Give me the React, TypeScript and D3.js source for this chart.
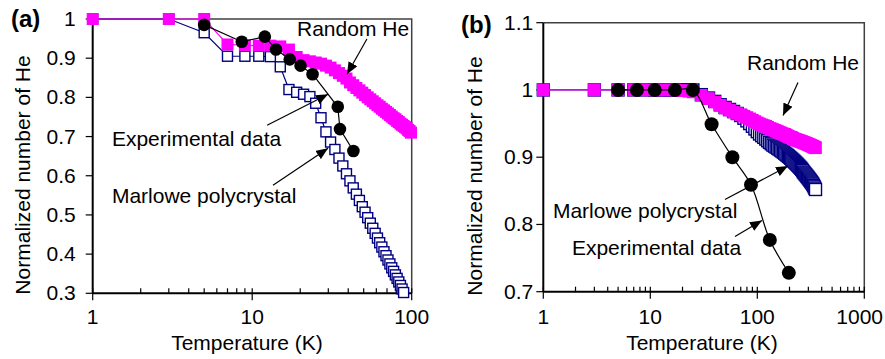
import React, { useEffect, useRef } from "react";
import * as d3 from "d3";

// ---- panel (a) data ----
const tempRandomA = [
  1, 3, 5, 7, 9, 11, 13, 15, 17, 19, 21, 23, 25, 27, 29, 31, 33, 35, 37, 39,
  41, 43, 45, 47, 49, 51, 53, 55, 57, 59, 61, 63, 65, 67, 69, 71, 73, 75, 77, 79,
  81, 83, 85, 87, 89, 91, 93, 95, 97, 99,
];
const randomHeA = [
  1.0, 1.0, 1.0, 0.935, 0.933, 0.932, 0.932, 0.93, 0.922, 0.903, 0.895, 0.892, 0.889,
  0.886, 0.881, 0.876, 0.869, 0.862, 0.855, 0.848, 0.838, 0.831, 0.824, 0.818, 0.812,
  0.806, 0.8, 0.795, 0.79, 0.785, 0.78, 0.776, 0.771, 0.767, 0.763, 0.759, 0.755,
  0.751, 0.747, 0.744, 0.74, 0.737, 0.733, 0.73, 0.727, 0.724, 0.721, 0.717, 0.714, 0.71,
];
const tempMarloweA = [
  1, 3, 5, 7, 9, 11, 13, 15, 17, 19, 21, 23, 25, 27, 29, 31, 33, 35, 37, 39,
  41, 43, 45, 47, 49, 51, 53, 55, 57, 59, 61, 63, 65, 67, 69, 71, 73, 75, 77, 79,
  81, 83, 85, 87, 89,
];
const marloweA = [
  1.0, 1.0, 0.965, 0.905, 0.905, 0.905, 0.904, 0.878, 0.82, 0.813, 0.808, 0.802, 0.785,
  0.748, 0.712, 0.686, 0.667, 0.645, 0.625, 0.605, 0.587, 0.569, 0.553, 0.537, 0.521,
  0.507, 0.493, 0.479, 0.466, 0.453, 0.441, 0.429, 0.418, 0.406, 0.396, 0.385, 0.375,
  0.365, 0.356, 0.347, 0.338, 0.329, 0.32, 0.311, 0.302,
];
const tempExpA = [5, 8.6, 12, 14.1, 17.2, 20.1, 23.9, 34.4, 35.5, 43.1];
const expA = [0.985, 0.942, 0.955, 0.922, 0.897, 0.881, 0.859, 0.776, 0.719, 0.663];

// ---- panel (b) data ----
const tempSimB = [
  1, 3, 5, 7, 9, 11, 13, 15, 17, 19, 21, 23, 25,
  30, 35, 40, 45, 50, 55, 60, 65, 70, 75, 80, 85, 90, 95,
  100, 105, 110, 115, 120, 125, 130, 135, 140, 145, 150, 155, 160, 165, 170, 175,
  180, 185, 190, 195, 200, 205, 210, 215, 220, 225, 230, 235, 240, 245, 250, 255,
  260, 265, 270, 275, 280, 285, 290, 295, 300, 305, 310, 315, 320, 325, 330, 335,
  340, 345, 350,
];
const randomHeB = [
  1, 1, 1, 1, 1, 1, 1, 1, 1, 0.999, 0.999, 0.998, 0.997,
  0.992, 0.987, 0.982, 0.977, 0.973, 0.97, 0.967, 0.965, 0.963, 0.961, 0.959, 0.957, 0.955, 0.953,
  0.951, 0.9495, 0.948, 0.947, 0.946, 0.9445, 0.943, 0.942, 0.941, 0.94, 0.939, 0.938,
  0.937, 0.936, 0.935, 0.9345, 0.934, 0.933, 0.932, 0.931, 0.93, 0.9295, 0.929, 0.928,
  0.927, 0.9265, 0.926, 0.9255, 0.925, 0.9245, 0.924, 0.9235, 0.923, 0.9225, 0.922,
  0.9215, 0.921, 0.9205, 0.92, 0.9195, 0.919, 0.9185, 0.918, 0.9175, 0.917, 0.9165,
  0.916, 0.9155, 0.915, 0.9145, 0.914,
];
const marloweB = [
  1, 1, 1, 1, 1, 1, 1, 1, 1, 1, 1, 1, 1,
  0.993, 0.988, 0.983, 0.978, 0.974, 0.971, 0.968, 0.965, 0.962, 0.958, 0.954, 0.95, 0.946, 0.942,
  0.938, 0.9345, 0.932, 0.9295, 0.927, 0.9245, 0.922, 0.92, 0.918, 0.9165, 0.915, 0.9135,
  0.912, 0.9105, 0.909, 0.9075, 0.906, 0.9045, 0.903, 0.9015, 0.9, 0.8985, 0.897, 0.8955,
  0.894, 0.8925, 0.891, 0.8895, 0.888, 0.8865, 0.885, 0.8835, 0.882, 0.88, 0.878, 0.8765,
  0.875, 0.8735, 0.872, 0.8705, 0.869, 0.8675, 0.866, 0.8645, 0.863, 0.8615, 0.86, 0.858,
  0.856, 0.854, 0.852,
];
const tempExpB = [5, 7.5, 11, 17, 25, 37.4, 58.5, 87.3, 131, 197];
const expB = [1, 1, 1, 1, 1, 0.949, 0.9, 0.859, 0.777, 0.728];

// tick values
const yTicksA = [0.3, 0.4, 0.5, 0.6, 0.7, 0.8, 0.9, 1];
const yTicksB = [0.7, 0.8, 0.9, 1, 1.1];
const xMajorA = [1, 10, 100];
const xMajorB = [1, 10, 100, 1000];

const FONT = "'Liberation Sans', Arial, Helvetica, sans-serif";
const MAGENTA = "#ff00ff";
const NAVY = "#000080";
const PAGE_W = 885;

type Series = { t: number[]; v: number[]; kind: "square" | "open" | "circle"; size: number; smooth?: boolean };
type Note = { text: string; at: [number, number]; from: [number, number]; to: [number, number] };

type PanelCfg = {
  id: string;
  label: string;
  labelPos: [number, number];
  xDomain: [number, number];
  yDomain: [number, number];
  xRange: [number, number];
  yRange: [number, number];
  yTicks: number[];
  xMajor: number[];
  yLabelGap: number;
  xTitleX: number;
  yTitleX: number;
  yTitleY: number;
  series: Series[];
  notes: Note[];
};

const panels: PanelCfg[] = [
  {
    id: "a",
    label: "(a)",
    labelPos: [11, 27],
    xDomain: [1, 100],
    yDomain: [0.3, 1],
    xRange: [92.7, 411.7],
    yRange: [293.3, 19],
    yTicks: yTicksA,
    xMajor: xMajorA,
    yLabelGap: 17,
    xTitleX: 247,
    yTitleX: 30,
    yTitleY: 175,
    series: [
      { t: tempMarloweA, v: marloweA, kind: "open", size: 10 },
      { t: tempRandomA, v: randomHeA, kind: "square", size: 12 },
      { t: tempExpA, v: expA, kind: "circle", size: 12.6 },
    ],
    notes: [
      { text: "Random He", at: [19.1, 0.957], from: [52.4, 0.949], to: [39.3, 0.859] },
      { text: "Experimental data", at: [1.32, 0.676], from: [12.4, 0.729], to: [29.9, 0.808] },
      { text: "Marlowe polycrystal", at: [1.32, 0.53], from: [13.5, 0.576], to: [29.9, 0.67] },
    ],
  },
  {
    id: "b",
    label: "(b)",
    labelPos: [461, 33],
    xDomain: [1, 1000],
    yDomain: [0.7, 1.1],
    xRange: [543.3, 864.3],
    yRange: [291.7, 22.7],
    yTicks: yTicksB,
    xMajor: xMajorB,
    yLabelGap: 10,
    xTitleX: 702,
    yTitleX: 482,
    yTitleY: 176,
    series: [
      { t: tempSimB, v: marloweB, kind: "open", size: 12 },
      { t: tempSimB, v: randomHeB, kind: "square", size: 12.6 },
      { t: tempExpB, v: expB, kind: "circle", size: 14, smooth: true },
    ],
    notes: [
      { text: "Random He", at: [80.1, 1.029], from: [240, 1.011], to: [174, 0.962] },
      { text: "Marlowe polycrystal", at: [1.23, 0.809], from: [49.9, 0.837], to: [193.6, 0.887] },
      { text: "Experimental data", at: [1.85, 0.755], from: [61.9, 0.782], to: [110.6, 0.806] },
    ],
  },
];

const drawPanel = (svg: d3.Selection<SVGSVGElement, unknown, null, undefined>, p: PanelCfg) => {
  const x = d3.scaleLog().domain(p.xDomain).range(p.xRange);
  const y = d3.scaleLinear().domain(p.yDomain).range(p.yRange);
  const [xl, xr] = p.xRange;
  const [yb, yt] = p.yRange;
  const g = svg.append("g");

  // plot-area border (top + right)
  g.append("path")
    .attr("d", `M${xl},${yt}H${xr}V${yb}`)
    .attr("fill", "none")
    .attr("stroke", "#404040")
    .attr("stroke-width", 1.5);

  // x axis: major ticks cross the axis, minor ones sit inside
  g.append("line").attr("x1", xl).attr("x2", xr).attr("y1", yb).attr("y2", yb)
    .attr("stroke", "#000").attr("stroke-width", 2);
  x.ticks().forEach((t) => {
    const major = p.xMajor.includes(t);
    g.append("line")
      .attr("x1", x(t)).attr("x2", x(t))
      .attr("y1", yb - 5).attr("y2", major ? yb + 7 : yb)
      .attr("stroke", "#000").attr("stroke-width", 1.2);
  });
  p.xMajor.forEach((t) => {
    const label = g.append("text")
      .attr("x", x(t)).attr("y", 324)
      .attr("text-anchor", "middle")
      .style("font-family", FONT).style("font-size", "21px")
      .text(String(t));
    // keep the last label on the page
    const node = label.node() as SVGTextElement;
    const w = node.getComputedTextLength();
    if (x(t) + w / 2 > PAGE_W - 2) label.attr("x", PAGE_W - 2 - w / 2);
  });

  // y axis
  g.append("line").attr("x1", xl).attr("x2", xl).attr("y1", yt).attr("y2", yb)
    .attr("stroke", "#000").attr("stroke-width", 2);
  p.yTicks.forEach((t) => {
    g.append("line")
      .attr("x1", xl - 7).attr("x2", xl)
      .attr("y1", y(t)).attr("y2", y(t))
      .attr("stroke", "#000").attr("stroke-width", 1.2);
    g.append("text")
      .attr("x", xl - p.yLabelGap).attr("y", y(t) + 7)
      .attr("text-anchor", "end")
      .style("font-family", FONT).style("font-size", "21px")
      .text(d3.format("~g")(t));
  });

  // axis titles
  g.append("text")
    .attr("x", p.xTitleX).attr("y", 350)
    .attr("text-anchor", "middle")
    .style("font-family", FONT).style("font-size", "21px")
    .text("Temperature (K)");
  g.append("text")
    .attr("transform", `translate(${p.yTitleX},${p.yTitleY}) rotate(-90)`)
    .attr("text-anchor", "middle")
    .style("font-family", FONT).style("font-size", "21px")
    .text("Normalized number of He");

  // panel label
  g.append("text")
    .attr("x", p.labelPos[0]).attr("y", p.labelPos[1])
    .style("font-family", FONT).style("font-size", "24px").style("font-weight", "bold")
    .text(p.label);

  // series
  p.series.forEach((s) => {
    const pts: [number, number][] = s.t.map((t, i) => [t, s.v[i]]);
    const color = s.kind === "square" ? MAGENTA : s.kind === "open" ? NAVY : "#000";
    const line = d3.line<[number, number]>()
      .x((d) => x(d[0]))
      .y((d) => y(d[1]))
      .curve(s.smooth ? d3.curveCatmullRom.alpha(0.5) : d3.curveLinear);
    g.append("path")
      .attr("d", line(pts))
      .attr("fill", "none")
      .attr("stroke", color)
      .attr("stroke-width", 1.2);

    const mk = g.append("g");
    pts.forEach((d) => {
      if (s.kind === "circle") {
        mk.append("circle")
          .attr("cx", x(d[0])).attr("cy", y(d[1])).attr("r", s.size / 2)
          .attr("fill", "#000");
      } else {
        mk.append("rect")
          .attr("x", x(d[0]) - s.size / 2).attr("y", y(d[1]) - s.size / 2)
          .attr("width", s.size).attr("height", s.size)
          .attr("fill", s.kind === "square" ? MAGENTA : "#fff")
          .attr("stroke", s.kind === "square" ? "none" : NAVY)
          .attr("stroke-width", 1.4);
      }
    });
  });

  // annotations with arrows
  p.notes.forEach((n) => {
    g.append("line")
      .attr("x1", x(n.from[0])).attr("y1", y(n.from[1]))
      .attr("x2", x(n.to[0])).attr("y2", y(n.to[1]))
      .attr("stroke", "#000").attr("stroke-width", 1.2)
      .attr("marker-end", `url(#arrow-${p.id})`);
    g.append("text")
      .attr("x", x(n.at[0])).attr("y", y(n.at[1]))
      .style("font-family", FONT).style("font-size", "21px")
      .text(n.text);
  });
};

const App: React.FC = () => {
  const ref = useRef<SVGSVGElement>(null);

  useEffect(() => {
    if (!ref.current) return;
    const svg = d3.select(ref.current);
    svg.selectAll("*").remove();

    const defs = svg.append("defs");
    panels.forEach((p) => {
      defs.append("marker")
        .attr("id", `arrow-${p.id}`)
        .attr("markerUnits", "userSpaceOnUse")
        .attr("markerWidth", 12).attr("markerHeight", 10)
        .attr("refX", 12).attr("refY", 5)
        .attr("orient", "auto")
        .append("path")
        .attr("d", "M0,0L12,5L0,10Z")
        .attr("fill", "#000");
    });

    svg.append("rect").attr("width", PAGE_W).attr("height", 359).attr("fill", "#fff");
    panels.forEach((p) => drawPanel(svg, p));
  }, []);

  return (
    <svg
      ref={ref}
      width={PAGE_W}
      height={359}
      style={{ position: "absolute", left: 0, top: 0, display: "block" }}
    />
  );
};

export default App;
